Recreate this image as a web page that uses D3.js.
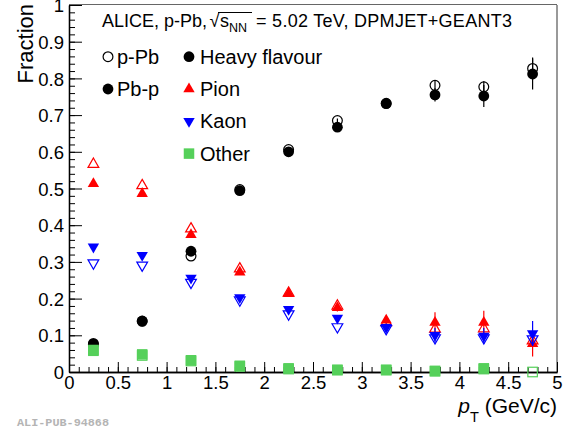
<!DOCTYPE html>
<html>
<head>
<meta charset="utf-8">
<script src="https://cdn.jsdelivr.net/npm/d3@7"></script>
<style>
body { margin: 0; background: #fff; }
text { font-family: "Liberation Sans", Arial, sans-serif; }
</style>
</head>
<body>
<script>
let width = 575;
let height = 432;

// bin centres (GeV/c)
let pt = [0.25, 0.75, 1.25, 1.75, 2.25, 2.75, 3.25, 3.75, 4.25, 4.75];

// p-Pb (open markers)
let hfPPb    = [0.075, 0.138, 0.316, 0.497, 0.606, 0.685, 0.732, 0.781, 0.777, 0.827];
let pionPPb  = [0.566, 0.508, 0.390, 0.281, 0.215, 0.180, 0.135, 0.117, 0.118, 0.085];
let kaonPPb  = [0.297, 0.291, 0.244, 0.196, 0.158, 0.123, 0.118, 0.093, 0.093, 0.090];
let otherPPb = [0.058, 0.045, 0.030, 0.015, 0.008, 0.005, 0.005, 0.002, 0.008, 0.000];

// Pb-p (filled markers)
let hfPbP    = [0.078, 0.139, 0.329, 0.494, 0.600, 0.667, 0.731, 0.755, 0.752, 0.812];
let pionPbP  = [0.513, 0.486, 0.374, 0.272, 0.213, 0.175, 0.141, 0.135, 0.135, 0.077];
let kaonPbP  = [0.341, 0.318, 0.256, 0.203, 0.171, 0.147, 0.122, 0.100, 0.098, 0.105];
let otherPbP = [0.060, 0.048, 0.032, 0.017, 0.010, 0.006, 0.006, 0.003, 0.010, null];

// statistical errors (only visible at high pT)
let hfErrPPb   = [0, 0, 0, 0, 0, 0.006, 0.008, 0.012, 0.015, 0.030];
let hfErrPbP   = [0, 0, 0, 0, 0, 0.008, 0.010, 0.018, 0.030, 0.042];
let pionErrPbP = [0, 0, 0, 0, 0.006, 0.010, 0.012, 0.028, 0.032, 0.035];
let kaonErrPbP = [0, 0, 0, 0, 0.005, 0.008, 0.010, 0.020, 0.022, 0.034];

let xTicks = [0, 0.5, 1, 1.5, 2, 2.5, 3, 3.5, 4, 4.5, 5];
let yTicks = [0, 0.1, 0.2, 0.3, 0.4, 0.5, 0.6, 0.7, 0.8, 0.9, 1];

let species = ["Heavy flavour", "Pion", "Kaon", "Other"];
let colors = ["#000000", "#ff0000", "#0000ff", "#55d05a"];
let shapes = ["circle", "up", "down", "square"];

let svg = d3.select("body").append("svg")
	.attr("width", width)
	.attr("height", height);

let x = d3.scaleLinear().domain([0, 5]).range([69, 557]);
let y = d3.scaleLinear().domain([0, 1]).range([372, 5]);

// frame
svg.append("line").attr("x1", x(0)).attr("x2", x(5)).attr("y1", y(1) - 0.5).attr("y2", y(1) - 0.5)
	.attr("stroke", "#666").attr("stroke-width", 1);
svg.append("line").attr("x1", x(5)).attr("x2", x(5)).attr("y1", y(1)).attr("y2", y(0))
	.attr("stroke", "#999").attr("stroke-width", 2);

// axes: ticks inside the frame
let xMinor = svg.append("g").attr("transform", `translate(0,${y(0)})`)
	.call(d3.axisBottom(x).tickValues(d3.range(0, 5.01, 0.1)).tickSize(-5).tickSizeOuter(0).tickFormat(""));
let xMajor = svg.append("g").attr("transform", `translate(0,${y(0)})`)
	.call(d3.axisBottom(x).tickValues(xTicks).tickSize(-10).tickSizeOuter(0).tickPadding(4).tickFormat(d3.format("~g")));
let yMinor = svg.append("g").attr("transform", `translate(${x(0)},0)`)
	.call(d3.axisLeft(y).tickValues(d3.range(0, 1.001, 0.02)).tickSize(-6).tickSizeOuter(0).tickFormat(""));
let yMajor = svg.append("g").attr("transform", `translate(${x(0)},0)`)
	.call(d3.axisLeft(y).tickValues(yTicks).tickSize(-13).tickSizeOuter(0).tickPadding(5).tickFormat(d3.format("~g")));

[xMinor, xMajor, yMinor, yMajor].forEach(g => {
	g.selectAll("line").attr("stroke", "#000").attr("stroke-width", 1);
	g.select(".domain").attr("stroke", "#000").attr("stroke-width", 1.3);
	g.selectAll("text").style("font-family", "Liberation Sans, Arial, sans-serif")
		.style("font-size", "18.5px").attr("fill", "#000");
});
xMajor.selectAll("text").attr("dy", "0.72em");
yMajor.selectAll("text").attr("dy", "0.36em");

// axis titles
svg.append("text")
	.attr("transform", `translate(33,${y(1) - 1}) rotate(-90)`)
	.attr("text-anchor", "end")
	.style("font-size", "22px")
	.text("Fraction");

let xt = svg.append("text")
	.attr("x", x(5))
	.attr("y", 413)
	.attr("text-anchor", "end")
	.style("font-size", "21px");
xt.append("tspan").style("font-style", "italic").text("p");
xt.append("tspan").attr("dy", 9).style("font-size", "14.5px").text("T");
xt.append("tspan").attr("dy", -9).text(" (GeV/c)");

// markers
function drawMarker(g, shape, color, filled, cx, cy) {
	let fill = filled ? color : "none";
	let sw = filled ? 0 : 1.2;
	if (shape === "circle") {
		g.append("circle").attr("cx", cx).attr("cy", cy).attr("r", filled ? 5.4 : 4.9)
			.attr("fill", fill).attr("stroke", color).attr("stroke-width", sw);
	} else if (shape === "square") {
		let s = filled ? 10.5 : 9.5;
		g.append("rect").attr("x", cx - s / 2).attr("y", cy - s / 2).attr("width", s).attr("height", s)
			.attr("fill", fill).attr("stroke", color).attr("stroke-width", sw);
	} else {
		let rot = shape === "down" ? 180 : 0;
		g.append("path").attr("d", d3.symbol().type(d3.symbolTriangle).size(filled ? 56 : 50)())
			.attr("transform", `translate(${cx},${cy}) rotate(${rot})`)
			.attr("fill", fill).attr("stroke", color).attr("stroke-width", sw);
	}
}

let seriesPPb = [hfPPb, pionPPb, kaonPPb, otherPPb];
let seriesPbP = [hfPbP, pionPbP, kaonPbP, otherPbP];
let errPPb = [hfErrPPb, null, null, null];
let errPbP = [hfErrPbP, pionErrPbP, kaonErrPbP, null];

let plot = svg.append("g");
species.forEach((s, i) => {
	[[seriesPPb[i], errPPb[i], false], [seriesPbP[i], errPbP[i], true]].forEach(([vals, errs, filled]) => {
		vals.forEach((v, j) => {
			if (v === null) return;
			if (errs && errs[j] > 0) {
				plot.append("line")
					.attr("x1", x(pt[j])).attr("x2", x(pt[j]))
					.attr("y1", y(v - errs[j])).attr("y2", y(v + errs[j]))
					.attr("stroke", colors[i]).attr("stroke-width", 1.2);
			}
			drawMarker(plot, shapes[i], colors[i], filled, x(pt[j]), y(v));
		});
	});
});

// header
let header = svg.append("text")
	.attr("y", 27)
	.style("font-size", "18px");
header.append("tspan").attr("x", 102).text("ALICE, p-Pb,");
header.append("tspan").attr("x", 209.5).text("\u221A");
header.append("tspan").attr("x", 220).text("s");
header.append("tspan").attr("dy", 4.5).style("font-size", "12.5px").text("NN");
header.append("tspan").attr("x", 256).attr("dy", -4.5)
	.attr("textLength", 256).attr("lengthAdjust", "spacing")
	.text("= 5.02 TeV, DPMJET+GEANT3");

// overline of the radical
svg.append("line").attr("x1", 218).attr("x2", 252)
	.attr("y1", 12.5).attr("y2", 12.5).attr("stroke", "#000").attr("stroke-width", 1);

// legend
let legRows = [
	{ col: 0, row: 0, shape: "circle", color: "#000", filled: false, label: "p-Pb" },
	{ col: 0, row: 1, shape: "circle", color: "#000", filled: true, label: "Pb-p" }
];
species.forEach((s, i) => legRows.push({ col: 1, row: i, shape: shapes[i], color: colors[i], filled: true, label: s }));

let legX = [108, 189];
let legY0 = 56.7, legDy = 32.3;
let leg = svg.append("g");
legRows.forEach(d => {
	let cy = legY0 + d.row * legDy;
	drawMarker(leg, d.shape, d.color, d.filled, legX[d.col], cy);
	leg.append("text")
		.attr("x", legX[d.col] + (d.col === 0 ? 9 : 11))
		.attr("y", cy + 7)
		.style("font-size", "20px")
		.text(d.label);
});

// publication tag
svg.append("text")
	.attr("x", 17)
	.attr("y", 426)
	.style("font-family", "Liberation Mono, DejaVu Sans Mono, monospace")
	.style("font-weight", "bold")
	.style("font-size", "11.8px")
	.attr("fill", "#b4b4b4")
	.text("ALI-PUB-94868");
</script>
</body>
</html>
